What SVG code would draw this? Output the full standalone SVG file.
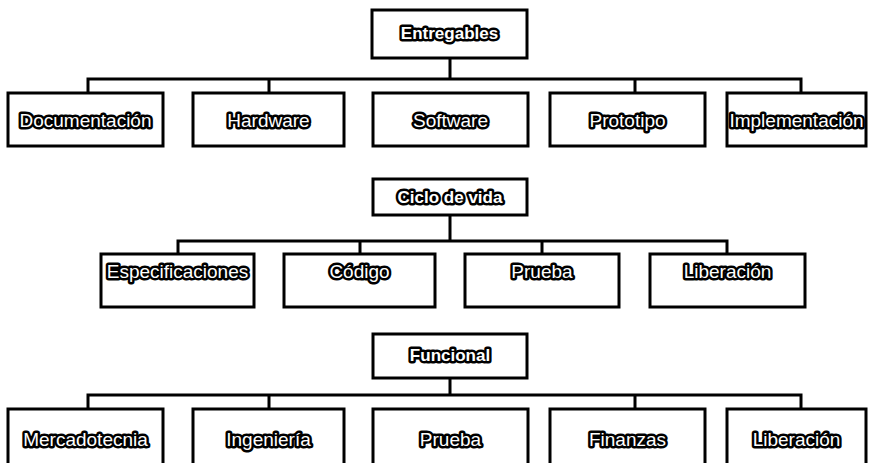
<svg xmlns="http://www.w3.org/2000/svg" width="870" height="463" viewBox="0 0 870 463">
<style>
.box{fill:#fff;stroke:#000;stroke-width:3}
.ln{fill:none;stroke:#000;stroke-width:3}
.t{font-family:"Liberation Sans",Arial,sans-serif;font-size:19px;fill:#fff;stroke:#000;stroke-width:5;stroke-linejoin:round;paint-order:stroke;text-anchor:middle;dominant-baseline:central}
.p{font-family:"Liberation Sans",Arial,sans-serif;font-weight:bold;font-size:17px;fill:#fff;stroke:#000;stroke-width:5;stroke-linejoin:round;paint-order:stroke;text-anchor:middle;dominant-baseline:central}
</style>
<rect width="870" height="463" fill="#fff"/>
<g id="connectors">
<path class="ln" d="M450 58V79M88 93V79H801V93M269 79V93M635 79V93"/>
<path class="ln" d="M450 215V241M178 254V241H727V254M360 241V254M542 241V254"/>
<path class="ln" d="M450 378V395M88 409V395H801V409M269 395V409M635 395V409"/>
</g>
<g id="entregables"><rect class="box" x="372" y="10" width="155" height="48"/><text class="p" x="449.5" y="33">Entregables</text></g>
<g id="documentacion"><rect class="box" x="8" y="93" width="155" height="53"/><text class="t" x="85.5" y="120">Documentación</text></g>
<g id="hardware"><rect class="box" x="193" y="93" width="151" height="53"/><text class="t" x="268.5" y="120">Hardware</text></g>
<g id="software"><rect class="box" x="373" y="93" width="155" height="53"/><text class="t" x="450.5" y="120">Software</text></g>
<g id="prototipo"><rect class="box" x="550" y="93" width="155" height="53"/><text class="t" x="627.5" y="120">Prototipo</text></g>
<g id="implementacion"><rect class="box" x="727" y="93" width="139" height="53"/><text class="t" x="796.5" y="120">Implementación</text></g>
<g id="ciclo"><rect class="box" x="373" y="179" width="154" height="36"/><text class="p" x="450" y="197">Ciclo de vida</text></g>
<g id="especificaciones"><rect class="box" x="101" y="254" width="153" height="53"/><text class="t" x="177.5" y="271">Especificaciones</text></g>
<g id="codigo"><rect class="box" x="284" y="254" width="151" height="53"/><text class="t" x="359.5" y="271">Código</text></g>
<g id="prueba1"><rect class="box" x="465" y="254" width="154" height="53"/><text class="t" x="542" y="271">Prueba</text></g>
<g id="liberacion1"><rect class="box" x="650" y="254" width="155" height="53"/><text class="t" x="727.5" y="271">Liberación</text></g>
<g id="funcional"><rect class="box" x="373" y="334" width="154" height="44"/><text class="p" x="450" y="355">Funcional</text></g>
<g id="mercadotecnia"><rect class="box" x="8" y="409" width="155" height="60"/><text class="t" x="85.5" y="439">Mercadotecnia</text></g>
<g id="ingenieria"><rect class="box" x="193" y="409" width="151" height="60"/><text class="t" x="268.5" y="439">Ingeniería</text></g>
<g id="prueba2"><rect class="box" x="373" y="409" width="155" height="60"/><text class="t" x="450.5" y="439">Prueba</text></g>
<g id="finanzas"><rect class="box" x="550" y="409" width="155" height="60"/><text class="t" x="627.5" y="439">Finanzas</text></g>
<g id="liberacion2"><rect class="box" x="727" y="409" width="139" height="60"/><text class="t" x="796.5" y="439">Liberación</text></g>
</svg>
